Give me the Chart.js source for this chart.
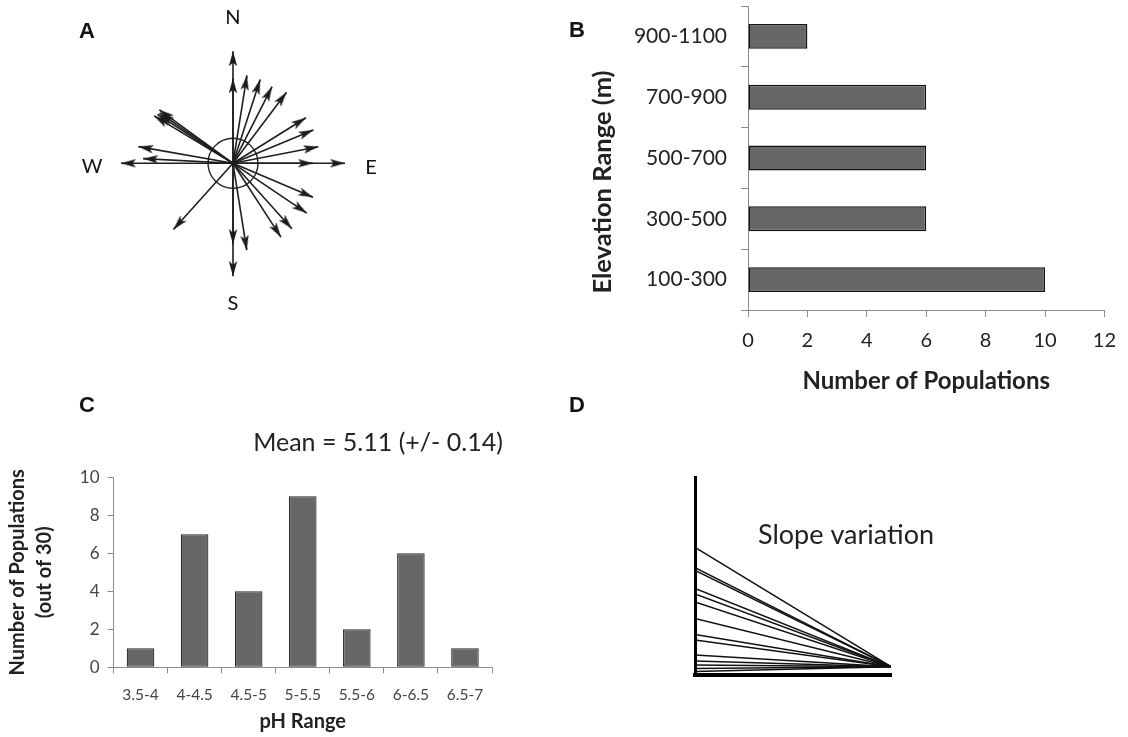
<!DOCTYPE html>
<html>
<head>
<meta charset="utf-8">
<script src="https://cdn.jsdelivr.net/npm/chart.js@4.4.1/dist/chart.umd.min.js"></script>
<style>
  html, body { margin: 0; padding: 0; background: #fff; }
  #figure { position: relative; width: 1128px; height: 737px; overflow: hidden; }
  canvas { position: absolute; }
</style>
</head>
<body>
<div id="figure">
  <canvas id="panelA" width="340" height="320" style="left:60px;top:0px"></canvas>
  <canvas id="panelB" width="568" height="400" style="left:560px;top:0px"></canvas>
  <canvas id="panelC" width="560" height="357" style="left:0px;top:380px"></canvas>
  <canvas id="panelD" width="568" height="357" style="left:560px;top:380px"></canvas>
</div>
<script>
// A: arrow directions (degrees clockwise from north) and lengths
const arrowBearings = [0, 0, 9, 18, 27, 37, 58, 67.5, 79, 90, 90, 113, 124, 138, 147, 171, 180, 180, 222, 270, 273, 280, 301, 303, 304.5, 306];
const arrowLengths = [112, 85, 89, 88, 86, 89, 86, 87, 87, 80, 112, 87, 89, 88, 88, 88, 81, 113, 89, 112, 90, 96, 92, 90, 89, 91];

// B: elevation ranges
const elevationRanges = ['900-1100', '700-900', '500-700', '300-500', '100-300'];
const elevationCounts = [2, 6, 6, 6, 10];

// C: pH ranges
const phRanges = ['3.5-4', '4-4.5', '4.5-5', '5-5.5', '5.5-6', '6-6.5', '6.5-7'];
const phCounts = [1, 7, 4, 9, 2, 6, 1];

// D: slope lines, start height on the left axis and common end height (axis top = 100)
const slopeStarts = [64.5, 54.3, 52.9, 43.8, 41.0, 36.9, 28.6, 20.5, 17.7, 10.1, 7.1, 5.1, 3.3, 1.8];
const slopeEnd = 4.2;

const FONT = 'Lato';
const letterFont = 'bold 22px "Liberation Sans"';

// free text (panel letters, compass points, notes)
const textPlugin = {
  id: 'panelText',
  afterDraw(chart, args, opts) {
    const ctx = chart.ctx;
    (opts.items || []).forEach(t => {
      ctx.save();
      ctx.translate(t.x, t.y);
      if (t.rotate) ctx.rotate(t.rotate * Math.PI / 180);
      ctx.font = t.font;
      ctx.fillStyle = t.color || '#111';
      ctx.textAlign = 'center';
      ctx.textBaseline = 'middle';
      ctx.fillText(t.text, 0, 0);
      ctx.restore();
    });
  }
};

const base = {
  responsive: false,
  animation: false,
  events: [],
};

// arrow head image, tip at the centre so it sits on the end point
const head = document.createElement('canvas');
head.width = 10;
head.height = 30;
const hc = head.getContext('2d');
hc.fillStyle = '#1a1a1a';
hc.beginPath();
hc.moveTo(5, 15);
hc.lineTo(9.2, 30);
hc.lineTo(5, 26.5);
hc.lineTo(0.8, 30);
hc.closePath();
hc.fill();

// ---- A ----
const arrowSets = arrowBearings.map((b, i) => {
  const r = b * Math.PI / 180;
  return {
    data: [{ x: 0, y: 0 }, { x: arrowLengths[i] * Math.sin(r), y: arrowLengths[i] * Math.cos(r) }],
    showLine: true,
    borderColor: '#1f1f1f',
    borderWidth: 1.6,
    pointStyle: head,
    pointRadius: [0, 6],
    pointRotation: [0, b],
  };
});
arrowSets.push({
  data: [{ x: 0, y: 0 }],
  pointStyle: 'circle',
  pointRadius: 25,
  borderColor: '#222',
  borderWidth: 1.4,
  backgroundColor: 'rgba(0,0,0,0)',
});

new Chart(document.getElementById('panelA'), {
  type: 'scatter',
  data: { datasets: arrowSets },
  options: {
    ...base,
    layout: { padding: 0, autoPadding: false },
    plugins: {
      legend: { display: false },
      tooltip: { enabled: false },
      panelText: {
        items: [
          { text: 'A', x: 27, y: 32, font: letterFont },
          { text: 'N', x: 173, y: 18, font: '20px ' + FONT },
          { text: 'W', x: 32, y: 167, font: '20px ' + FONT },
          { text: 'E', x: 311, y: 168, font: '20px ' + FONT },
          { text: 'S', x: 173, y: 304, font: '20px ' + FONT },
        ]
      }
    },
    scales: {
      x: { type: 'linear', min: -173, max: 167, display: false },
      y: { type: 'linear', min: -156.7, max: 163.3, display: false }
    }
  },
  plugins: [textPlugin]
});

// ---- B ----
new Chart(document.getElementById('panelB'), {
  type: 'bar',
  data: {
    labels: elevationRanges,
    datasets: [{
      data: elevationCounts,
      backgroundColor: '#676767',
      borderColor: '#141414',
      borderWidth: 1.5,
      borderSkipped: false,
      barPercentage: 0.41,
      categoryPercentage: 1
    }]
  },
  options: {
    ...base,
    indexAxis: 'y',
    layout: { padding: { left: 0, top: 6, right: 22.4, bottom: 0 } },
    plugins: {
      legend: { display: false },
      tooltip: { enabled: false },
      panelText: {
        items: [
          { text: 'B', x: 17, y: 31, font: letterFont },
          { text: 'Elevation Range (m)', x: 43, y: 182, rotate: -90, font: 'bold 25.5px ' + FONT, color: '#222' },
        ]
      }
    },
    scales: {
      x: {
        min: 0, max: 12,
        ticks: { stepSize: 2, color: '#222', font: { family: FONT, size: 20 }, padding: 12 },
        grid: { drawOnChartArea: false, tickLength: 7, color: '#8c8c8c' },
        border: { color: '#8c8c8c' },
        title: { display: true, text: 'Number of Populations', color: '#222',
                 font: { family: FONT, size: 24, weight: 'bold' }, padding: { top: 0, bottom: 4.6 } },
        afterFit: s => { s.height = 90; }
      },
      y: {
        ticks: { color: '#222', font: { family: FONT, size: 21 }, padding: 14 },
        grid: { drawOnChartArea: false, tickLength: 7, color: '#8c8c8c' },
        border: { color: '#8c8c8c' },
        afterFit: s => { s.width = 188; s.paddingTop = 0; s.paddingBottom = 0; }
      }
    }
  },
  plugins: [textPlugin]
});

// ---- C ----
new Chart(document.getElementById('panelC'), {
  type: 'bar',
  data: {
    labels: phRanges,
    datasets: [{
      data: phCounts,
      backgroundColor: '#676767',
      borderColor: '#2a2a2a',
      borderWidth: 1.2,
      borderSkipped: false,
      barPercentage: 0.51,
      categoryPercentage: 1
    }]
  },
  options: {
    ...base,
    layout: { padding: { left: 0, top: 97.3, right: 68, bottom: 0 } },
    plugins: {
      legend: { display: false },
      tooltip: { enabled: false },
      panelText: {
        items: [
          { text: 'C', x: 87, y: 26, font: letterFont },
          { text: 'Mean = 5.11 (+/- 0.14)', x: 378, y: 63, font: '25px ' + FONT, color: '#222' },
        ]
      }
    },
    scales: {
      x: {
        ticks: { color: '#444', font: { family: FONT, size: 15.5 }, padding: 12.5 },
        grid: { drawOnChartArea: false, tickLength: 6, color: '#8c8c8c' },
        border: { color: '#8c8c8c' },
        title: { display: true, text: 'pH Range', color: '#222',
                 font: { family: FONT, size: 20, weight: 'bold' }, padding: { top: 0, bottom: 3.3 } },
        afterFit: s => { s.height = 69.7; }
      },
      y: {
        min: 0, max: 10,
        ticks: { stepSize: 2, color: '#444', font: { family: FONT, size: 17 }, padding: 8 },
        grid: { drawOnChartArea: false, tickLength: 6, color: '#8c8c8c' },
        border: { color: '#8c8c8c' },
        title: { display: true, text: ['Number of Populations', '(out of 30)'], color: '#222',
                 font: { family: FONT, size: 20, weight: 'bold', lineHeight: 1.35 }, padding: { top: 4.5, bottom: 0 } },
        afterFit: s => { s.width = 113.5; }
      }
    }
  },
  plugins: [textPlugin]
});

// ---- D ----
const slopeSets = slopeStarts.map(v => ({
  data: [{ x: 0, y: v }, { x: 1, y: slopeEnd }],
  showLine: true,
  borderColor: '#111',
  borderWidth: 1.5,
  pointRadius: 0
}));

new Chart(document.getElementById('panelD'), {
  type: 'scatter',
  data: { datasets: slopeSets },
  options: {
    ...base,
    layout: { padding: { left: 135, top: 97.3, right: 237, bottom: 62 }, autoPadding: false },
    plugins: {
      legend: { display: false },
      tooltip: { enabled: false },
      panelText: {
        items: [
          { text: 'D', x: 17, y: 26, font: letterFont },
          { text: 'Slope variation', x: 286, y: 155, font: '27px ' + FONT, color: '#222' },
        ]
      }
    },
    scales: {
      x: {
        min: 0, max: 1,
        ticks: { display: false },
        grid: { drawOnChartArea: false, drawTicks: false },
        border: { color: '#000', width: 4 },
        afterFit: s => { s.height = 0; }
      },
      y: {
        min: 0, max: 100,
        ticks: { display: false },
        grid: { drawOnChartArea: false, drawTicks: false },
        border: { color: '#000', width: 3 },
        afterFit: s => { s.width = 0; }
      }
    }
  },
  plugins: [textPlugin]
});
</script>
</body>
</html>
